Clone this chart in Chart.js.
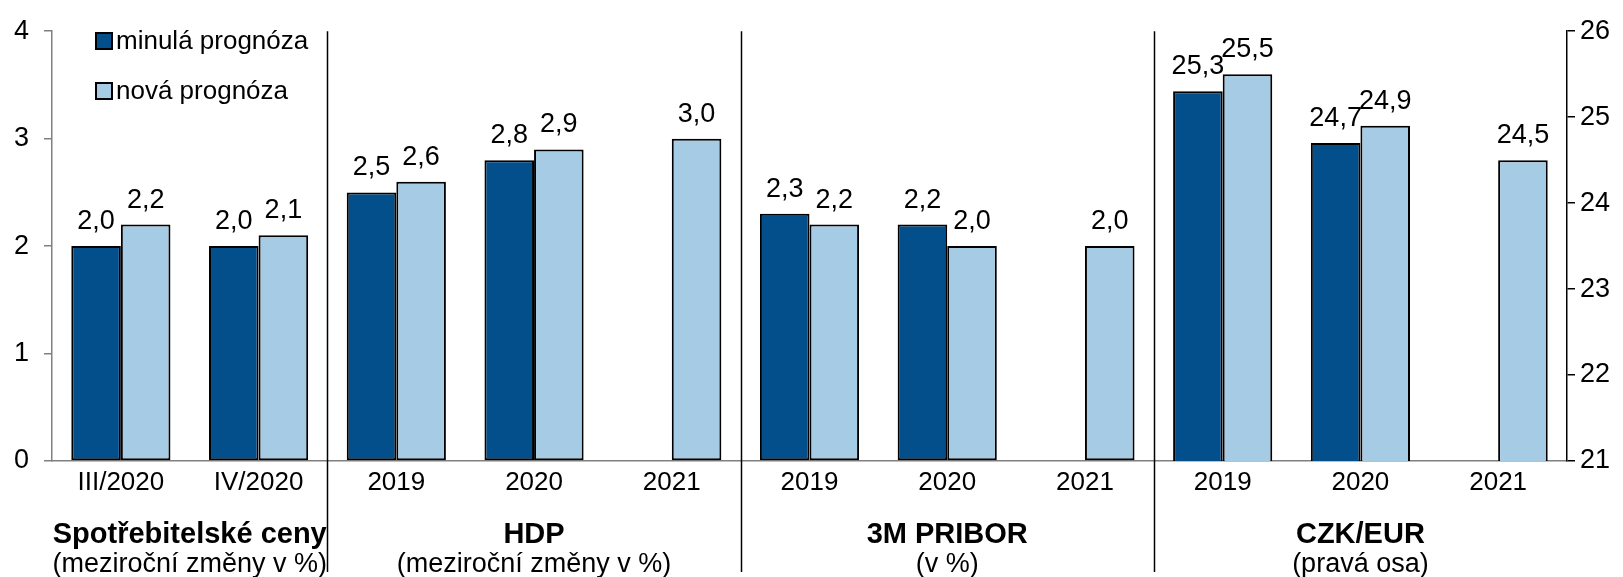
<!DOCTYPE html>
<html>
<head>
<meta charset="utf-8">
<script src="https://cdn.jsdelivr.net/npm/chart.js@4/dist/chart.umd.min.js"></script>
<style>
  body { margin: 0; background: #fff; }
  canvas { display: block; }
</style>
</head>
<body>
<canvas id="chart" width="1623" height="577"></canvas>
<script>
// categories on the x axis
const labels = ['III/2020', 'IV/2020', '2019', '2020', '2021', '2019', '2020', '2021', '2019', '2020', '2021'];

// left axis (%)
const minula = [2.0, 2.0, 2.5, 2.8, null, 2.3, 2.2, null, null, null, null];
const nova = [2.2, 2.1, 2.6, 2.9, 3.0, 2.2, 2.0, 2.0, null, null, null];

// right axis (CZK/EUR)
const minulaKurz = [null, null, null, null, null, null, null, null, 25.3, 24.7, 21.0];
const novaKurz = [null, null, null, null, null, null, null, null, 25.5, 24.9, 24.5];

// groups under the axis
const groupNames = ['Spotřebitelské ceny', 'HDP', '3M PRIBOR', 'CZK/EUR'];
const groupNotes = ['(meziroční změny v %)', '(meziroční změny v %)', '(v %)', '(pravá osa)'];
const groupFirst = [0, 2, 5, 8];
const groupLast = [1, 4, 7, 10];

const FONT = 'Arial, "Liberation Sans", sans-serif';
const DARK = '#034f8c';
const LIGHT = '#a5cce4';

// value labels above the bars
const valueLabels = {
  id: 'valueLabels',
  afterDatasetsDraw(chart) {
    const ctx = chart.ctx;
    ctx.save();
    ctx.font = '27px ' + FONT;
    ctx.fillStyle = '#000';
    ctx.textAlign = 'center';
    ctx.textBaseline = 'alphabetic';
    chart.data.datasets.forEach((ds, i) => {
      const meta = chart.getDatasetMeta(i);
      const scale = chart.scales[ds.yAxisID];
      meta.data.forEach((bar, j) => {
        const v = ds.data[j];
        if (v === null || v <= scale.min) return;
        ctx.fillText(v.toFixed(1).replace('.', ','), bar.x, bar.y - 17);
      });
    });
    ctx.restore();
  }
};

// separators, group titles and legend
const decorations = {
  id: 'decorations',
  afterDraw(chart) {
    const ctx = chart.ctx;
    const x = chart.scales.x;
    const top = chart.chartArea.top;
    ctx.save();
    ctx.strokeStyle = '#000';
    ctx.lineWidth = 1.5;
    groupFirst.slice(1).forEach(i => {
      const px = Math.round((x.getPixelForValue(i - 1) + x.getPixelForValue(i)) / 2) + 0.5;
      ctx.beginPath();
      ctx.moveTo(px, top);
      ctx.lineTo(px, 572);
      ctx.stroke();
    });

    ctx.fillStyle = '#000';
    ctx.textAlign = 'center';
    ctx.textBaseline = 'middle';
    groupNames.forEach((name, g) => {
      const cx = (x.getPixelForValue(groupFirst[g]) + x.getPixelForValue(groupLast[g])) / 2;
      ctx.font = 'bold 29px ' + FONT;
      ctx.fillText(name, cx, 535);
      ctx.font = '27px ' + FONT;
      ctx.fillText(groupNotes[g], cx, 565);
    });

    // legend (only the two series types)
    ctx.textAlign = 'left';
    ctx.font = '26px ' + FONT;
    [0, 1].forEach(i => {
      const ds = chart.data.datasets[i];
      const y = 41 + i * 50;
      ctx.fillStyle = ds.backgroundColor;
      ctx.fillRect(96, y - 8, 16, 16);
      ctx.lineWidth = 2;
      ctx.strokeStyle = '#000';
      ctx.strokeRect(96, y - 8, 16, 16);
      ctx.fillStyle = '#000';
      ctx.fillText(ds.label, 116, y + 1);
    });
    ctx.restore();
  }
};

const barCommon = {
  borderColor: '#000',
  borderSkipped: false,
  categoryPercentage: 0.72,
  barPercentage: 1.0
};

new Chart(document.getElementById('chart'), {
  type: 'bar',
  data: {
    labels: labels,
    datasets: [
      { ...barCommon, label: 'minulá prognóza', data: minula, backgroundColor: DARK, borderWidth: 2, yAxisID: 'y', stack: 'a' },
      { ...barCommon, label: 'nová prognóza', data: nova, backgroundColor: LIGHT, borderWidth: 2, yAxisID: 'y', stack: 'b' },
      { ...barCommon, label: 'minulá prognóza (kurz)', data: minulaKurz, backgroundColor: DARK, yAxisID: 'y2', stack: 'a',
        minBarLength: 3,
        borderWidth: c => (c.raw !== null && c.raw <= 21 ? 0 : 2) },
      { ...barCommon, label: 'nová prognóza (kurz)', data: novaKurz, backgroundColor: LIGHT, borderWidth: 2, yAxisID: 'y2', stack: 'b' }
    ]
  },
  options: {
    responsive: false,
    animation: false,
    layout: { padding: { top: 23, left: 0, right: 0, bottom: 0 } },
    plugins: {
      legend: { display: false },
      tooltip: { enabled: false }
    },
    scales: {
      x: {
        grid: { drawOnChartArea: false, drawTicks: false },
        border: { color: '#808080', width: 1.5 },
        ticks: { color: '#000', font: { family: FONT, size: 26 }, padding: 6, maxRotation: 0, autoSkip: false },
        afterFit: s => { s.height = 116; }
      },
      y: {
        position: 'left',
        min: 0, max: 4,
        stacked: false,
        grid: { drawOnChartArea: false, tickLength: 8, color: '#808080', lineWidth: 1.5 },
        border: { color: '#808080', width: 1.5 },
        ticks: { stepSize: 1, color: '#000', font: { family: FONT, size: 27 }, padding: 15 },
        afterFit: s => { s.width = 52; }
      },
      y2: {
        position: 'right',
        min: 21, max: 26,
        stacked: false,
        grid: { drawOnChartArea: false, tickLength: 8, color: '#000', lineWidth: 1.5 },
        border: { color: '#000', width: 1.5 },
        ticks: { stepSize: 1, color: '#000', font: { family: FONT, size: 27 }, padding: 5 },
        afterFit: s => { s.width = 56; }
      }
    }
  },
  plugins: [valueLabels, decorations]
});
</script>
</body>
</html>
